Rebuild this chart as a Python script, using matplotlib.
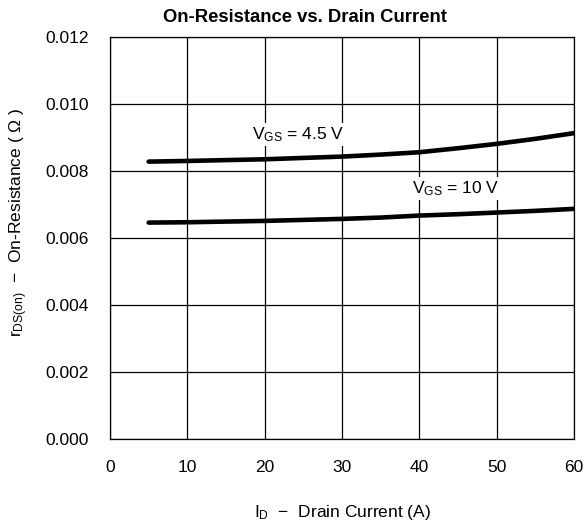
import matplotlib
matplotlib.use("Agg")
import matplotlib.pyplot as plt
import numpy as np

plt.rcParams['font.family'] = ['Liberation Sans', 'DejaVu Sans']
plt.rcParams['mathtext.fontset'] = 'custom'
plt.rcParams['mathtext.rm'] = 'Liberation Sans'
plt.rcParams['mathtext.default'] = 'regular'

current = [5, 10, 20, 30, 35, 40, 45, 50, 55, 60]
r_vgs45 = [0.00828, 0.00830, 0.00835, 0.00843, 0.00849, 0.00856, 0.00868, 0.00881, 0.00896, 0.00913]
r_vgs10 = [0.00646, 0.00647, 0.00651, 0.00657, 0.00661, 0.00667, 0.00671, 0.00676, 0.00681, 0.00687]
xticks = [0, 10, 20, 30, 40, 50, 60]
yticks = [0.000, 0.002, 0.004, 0.006, 0.008, 0.010, 0.012]

fig = plt.figure(figsize=(5.87, 5.27), dpi=100)
ax = fig.add_axes([110/587, 88/527, 464/587, 402/527])

ax.plot(current, r_vgs45, color='black', lw=3.3, solid_capstyle='round', solid_joinstyle='round', zorder=3)
ax.plot(current, r_vgs10, color='black', lw=3.3, solid_capstyle='round', solid_joinstyle='round', zorder=3)

ax.set_xlim(0, 60)
ax.set_ylim(0, 0.012)
ax.set_xticks(xticks)
ax.set_yticks(yticks)
ax.set_yticklabels([f"{v:.3f}" for v in yticks])
ax.tick_params(length=0, labelsize=12.5)
ax.tick_params(axis='y', pad=15)
ax.tick_params(axis='x', pad=15)
ax.grid(True, color='black', lw=0.9)
ax.set_axisbelow(True)
for s in ax.spines.values():
    s.set_linewidth(0.9)

ax.text(18.4, 0.00895, r'V$_{GS}$ = 4.5 V', fontsize=12.5, va='baseline', ha='left', zorder=2,
        bbox=dict(facecolor='white', edgecolor='none', pad=1.5))
ax.text(39.05, 0.00733, r'V$_{GS}$ = 10 V', fontsize=12.5, va='baseline', ha='left', zorder=2,
        bbox=dict(facecolor='white', edgecolor='none', pad=1.5))

fig.text(305/587, 1 - 22/527, 'On-Resistance vs. Drain Current', fontsize=13.3,
         fontweight='bold', ha='center', va='baseline')
ax.set_xlabel(r'I$_D$  $-$  Drain Current (A)', fontsize=12.5, labelpad=20)
ax.set_ylabel(r'r$_{DS(on)}$  $-$  On-Resistance ( $\Omega$ )', fontsize=12.5)
ax.yaxis.set_label_coords(-0.172, 0.54)

fig.savefig('out.png', dpi=100)
